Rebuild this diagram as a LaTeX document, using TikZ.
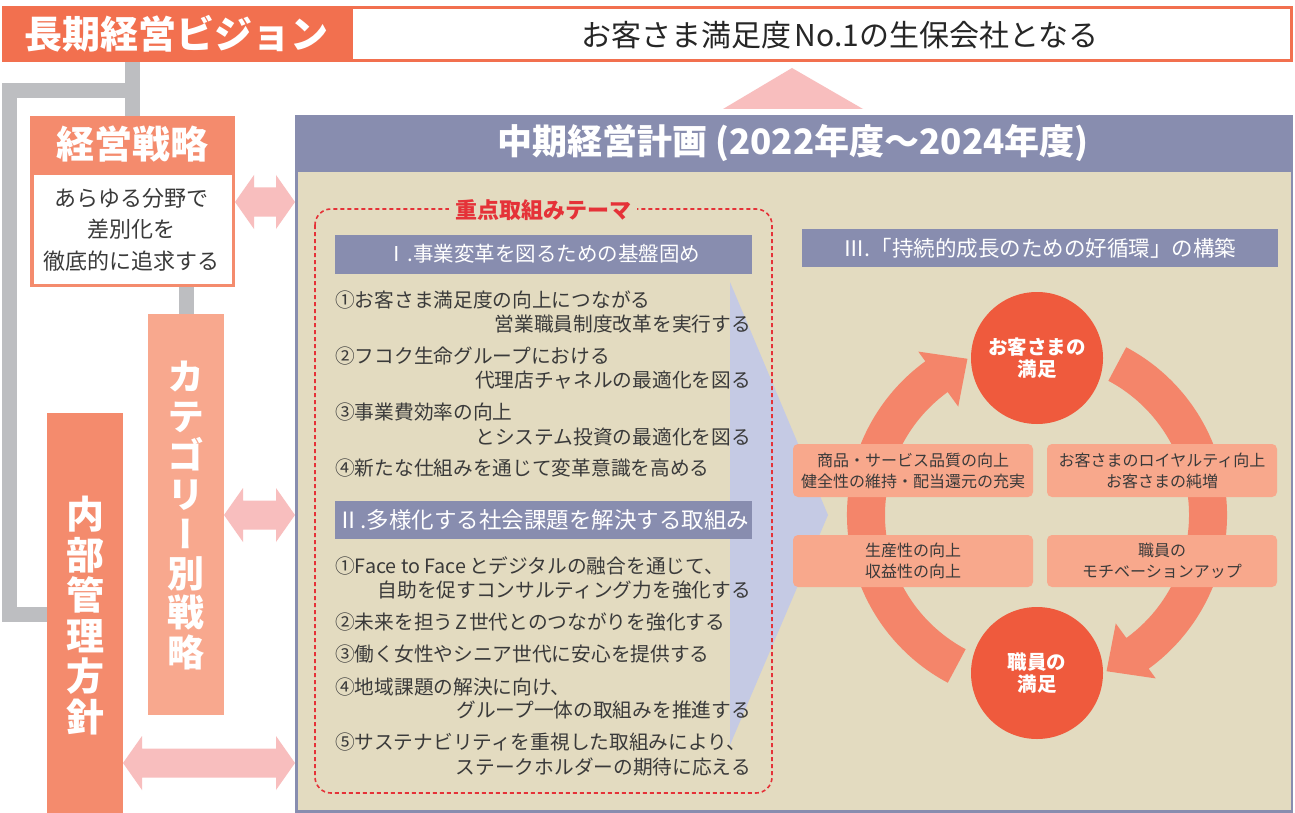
\documentclass[tikz,border=0pt]{standalone}
\usepackage{fontspec}
\setmainfont{Noto Sans CJK JP}
\newfontfamily\vfont[RawFeature=+vert]{Noto Sans CJK JP}
\definecolor{visionor}{HTML}{F2704F}
\definecolor{boxor}{HTML}{F48B6D}
\definecolor{catcol}{HTML}{F8A88E}
\definecolor{grayc}{HTML}{BDBEC1}
\definecolor{pinkc}{HTML}{F8BEBE}
\definecolor{purp}{HTML}{888DAF}
\definecolor{beige}{HTML}{E3DBC0}
\definecolor{lav}{HTML}{C5CAE4}
\definecolor{redd}{HTML}{E53238}
\definecolor{circ}{HTML}{EF5A3D}
\definecolor{ringc}{HTML}{F4856A}
\definecolor{lbl}{HTML}{F8A88C}
\definecolor{txt}{HTML}{3A3A3A}
\newcommand\dblarrow[3]{\fill[pinkc] (#1,#3) -- ++(19,-27) -- ++(0,12.5) -- ({#2-19},{#3-14.5}) -- ++(0,-12.5) -- (#2,#3) -- ++(-19,27) -- ++(0,-12.5) -- ({#1+19},{#3+14.5}) -- ++(0,12.5) -- cycle;}
\begin{document}
\begin{tikzpicture}[x=1pt,y=-1pt,
  grayline/.style={draw=grayc, line width=15pt, line join=miter},
  solidbox/.style={inner sep=0pt, text=white},
  hdr/.style={fill=purp, inner sep=0pt, text=white},
  item/.style={inner sep=0pt, text height=17pt, text depth=2.7pt, font=\fontsize{19.7}{24}\selectfont, text=txt},
  lblbox/.style={fill=lbl, rounded corners=5pt, minimum height=53pt, inner sep=0pt, align=center, text=txt, font=\fontsize{16}{21}\selectfont},
  circnode/.style={circle, fill=circ, minimum size=132pt, inner sep=0pt, align=center, text=white, font=\fontsize{19.5}{22}\selectfont\bfseries}
]
\useasboundingbox (0,0) rectangle (1295,813);
\fill[white] (0,0) rectangle (1295,813);

% top row
\node[solidbox, fill=visionor, minimum width=348pt, minimum height=56pt, font=\fontsize{38}{40}\selectfont\bfseries] (vision) at (176,34) {長期経営ビジョン};
\node[draw=visionor, line width=3pt, fill=white, minimum width=940pt, minimum height=53pt, inner sep=0pt] (goal) at (821.5,34) {};
\node[inner sep=0pt, text=black!85, font=\fontsize{30}{31}\selectfont] (goaltext) at (840,35) {お客さま満足度\hspace{0.12em}No.1の生保会社となる};

% left column boxes
\node[solidbox, fill=boxor, minimum width=205pt, minimum height=56pt, font=\fontsize{38}{40}\selectfont\bfseries] (strat) at (132.5,144) {経営戦略};
\node[draw=boxor, line width=3.5pt, fill=white, minimum width=201.5pt, minimum height=111.5pt, inner sep=0pt] (stratbody) at (132.5,229.5) {};
\node[inner sep=0pt, align=center, text=txt, font=\fontsize{22}{31.5}\selectfont] (strattext) at (131.5,229.5) {あらゆる分野で\\差別化を\\徹底的に追求する};
\node[solidbox, fill=catcol, minimum width=76pt, minimum height=401pt] (cat) at (186,514.5) {};
\node[solidbox, fill=boxor, minimum width=76pt, minimum height=402pt] (inner) at (85,614) {};
\node[inner sep=0pt, align=center, text=white, font=\vfont\fontsize{37}{39.3}\selectfont\bfseries] (cattext) at (186,515.5) {カ\\テ\\ゴ\\リ\\ー\\別\\戦\\略};
\node[inner sep=0pt, align=center, text=white, font=\vfont\fontsize{38}{40.6}\selectfont\bfseries] (innertext) at (85,615.5) {内\\部\\管\\理\\方\\針};

% gray connectors
\coordinate (gj) at (132.5,90.5);
\draw[grayline] (vision.south -| strat.north) -- (strat.north);
\draw[grayline] (gj) -| (9,614) -- (inner.west |- 0,614);
\draw[grayline] (cat.north |- stratbody.south) -- (cat.north);

% pink arrows
\dblarrow{235}{295}{202}
\dblarrow{224}{295}{515}
\dblarrow{123}{295}{763}
\fill[pinkc] (792,68) -- (863,109) -- (723,109) -- cycle;

% main panel
\draw[purp, line width=2.5pt, fill=beige] (296.25,116) rectangle (1292,811.5);
\fill[purp] (295,116) rectangle (1293.25,172);
\node[inner sep=0pt, text=white, font=\fontsize{35}{36}\selectfont\bfseries] (plan) at (793,143) {中期経営計画 (2022年度～2024年度)};

% lavender arrow
\fill[lav] (730,282) -- (828,515) -- (730,745) -- cycle;

% dashed theme frame
\draw[redd, line width=1.6pt, dash pattern=on 4pt off 3pt, rounded corners=16pt] (315,209) rectangle (772,793);
\node[fill=beige, inner xsep=6pt, inner ysep=1pt, text=redd, font=\fontsize{22}{22}\selectfont\bfseries] (theme) at (543,210) {重点取組みテーマ};

% headers
\node[hdr, minimum width=417pt, minimum height=39pt, font=\fontsize{20.5}{21}\selectfont] (h1) at (543.5,254) {Ⅰ.事業変革を図るための基盤固め};
\node[hdr, minimum width=417pt, minimum height=38pt, font=\fontsize{22.5}{23}\selectfont] (h2) at (543.5,520) {Ⅱ.多様化する社会課題を解決する取組み};
\node[hdr, minimum width=476pt, minimum height=38pt, font=\fontsize{21.5}{22}\selectfont] (h3) at (1039.5,248) {Ⅲ.「持続的成長のための好循環」の構築};

% items I
\node[item, anchor=west] (a1) at (335,300) {①お客さま満足度の向上につながる};
\node[item, anchor=east] (a1b) at (751,324) {営業職員制度改革を実行する};
\node[item, anchor=west] (a2) at (335,356) {②フコク生命グループにおける};
\node[item, anchor=east] (a2b) at (751,380) {代理店チャネルの最適化を図る};
\node[item, anchor=west] (a3) at (335,412) {③事業費効率の向上};
\node[item, anchor=east] (a3b) at (751,437) {とシステム投資の最適化を図る};
\node[item, anchor=west] (a4) at (335,468) {④新たな仕組みを通じて変革意識を高める};
% items II
\node[item, anchor=west] (b1) at (335,566) {①Face to Face\hspace{0.15em}とデジタルの融合を通じて、};
\node[item, anchor=east] (b1b) at (751,590) {自助を促すコンサルティング力を強化する};
\node[item, anchor=west] (b2) at (335,622) {②未来を担う\hspace{0.1em}Z\hspace{0.1em}世代とのつながりを強化する};
\node[item, anchor=west] (b3) at (335,654) {③働く女性やシニア世代に安心を提供する};
\node[item, anchor=west] (b4) at (335,687) {④地域課題の解決に向け、};
\node[item, anchor=east] (b4b) at (751,710) {グループ一体の取組みを推進する};
\node[item, anchor=west] (b5) at (335,742) {⑤サステナビリティを重視した取組みにより、};
\node[item, anchor=east] (b5b) at (751,767) {ステークホルダーの期待に応える};

% cycle ring
\begin{scope}[shift={(1037,515)}, yscale=-1]
\fill[ringc] (242:190) arc[start angle=242, end angle=126, radius=190] -- (126:202) -- (114:171) -- (126:134) -- (126:152) arc[start angle=126, end angle=242, radius=152] -- cycle;
\fill[ringc] (62:190) arc[start angle=62, end angle=-54, radius=190] -- (-54:202) -- (-66:171) -- (-54:134) -- (-54:152) arc[start angle=-54, end angle=62, radius=152] -- cycle;
\end{scope}

\node[circnode] (cust) at (1037,358) {お客さまの\\満足};
\node[circnode] (staff) at (1037,673) {職員の\\満足};

\node[lblbox, minimum width=240pt] (q1) at (913,470.5) {商品・サービス品質の向上\\健全性の維持・配当還元の充実};
\node[lblbox, minimum width=230pt] (q2) at (1162,470.5) {お客さまのロイヤルティ向上\\お客さまの純増};
\node[lblbox, minimum width=240pt, minimum height=52pt] (q3) at (913,561) {生産性の向上\\収益性の向上};
\node[lblbox, minimum width=230pt, minimum height=52pt] (q4) at (1162,561) {職員の\\モチベーションアップ};
\end{tikzpicture}
\end{document}
